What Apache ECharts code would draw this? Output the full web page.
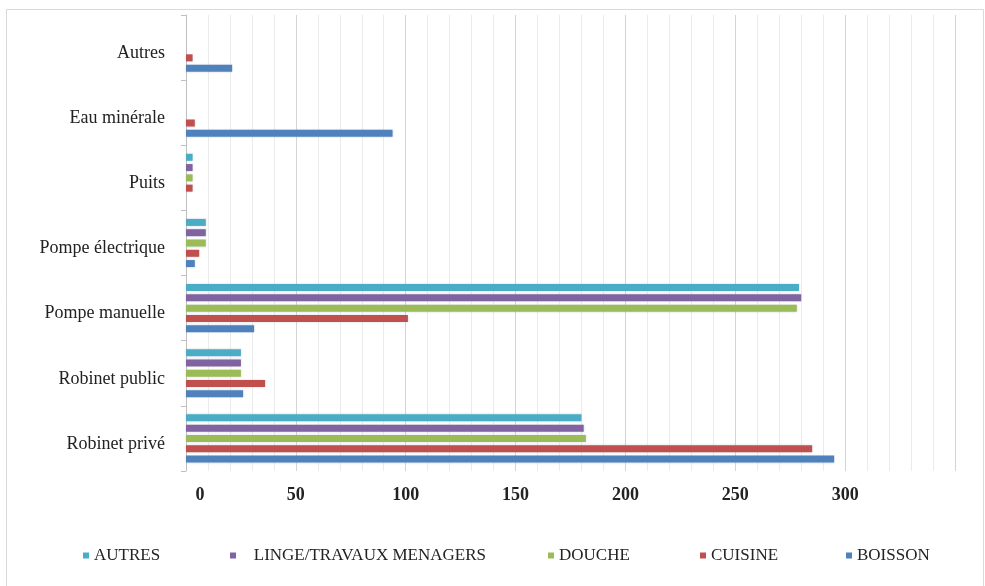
<!DOCTYPE html>
<html>
<head>
<meta charset="utf-8">
<script src="https://cdn.jsdelivr.net/npm/echarts@6/dist/echarts.min.js"></script>
<style>
  html, body { margin: 0; padding: 0; background: #ffffff; }
  #chart { width: 985px; height: 586px; }
</style>
</head>
<body>
<div id="chart"></div>
<script>
// Water sources (bottom to top on the category axis)
const sources = ['Robinet privé', 'Robinet public', 'Pompe manuelle', 'Pompe électrique', 'Puits', 'Eau minérale', 'Autres'];

// Number of households per use, for each source
const boisson = [295, 26, 31, 4, 0, 94, 21];
const cuisine = [285, 36, 101, 6, 3, 4, 3];
const douche  = [182, 25, 278, 9, 3, 0, 0];
const linge   = [181, 25, 280, 9, 3, 0, 0];
const autres  = [180, 25, 279, 9, 3, 0, 0];

// Series listed top-down within each group (first series is drawn uppermost)
const seriesNames = ['AUTRES', 'LINGE/TRAVAUX MENAGERS', 'DOUCHE', 'CUISINE', 'BOISSON'];
const seriesValues = [autres, linge, douche, cuisine, boisson];
const seriesColors = ['#4BACC6', '#8064A2', '#9BBB59', '#C0504D', '#4F81BD'];

const xTicks = [0, 50, 100, 150, 200, 250, 300];

const serifFont = '"Liberation Serif", "DejaVu Serif", serif';

const chart = echarts.init(document.getElementById('chart'), null, { renderer: 'canvas' });

const series = seriesNames.map((name, i) => ({
  name: name,
  type: 'bar',
  data: seriesValues[i],
  barWidth: 7,
  barGap: '47%',
  itemStyle: {
    color: seriesColors[i],
    shadowColor: 'rgba(160,170,190,0.45)',
    shadowBlur: 2
  }
}));

// One legend block per entry so the entries can be spaced freely
const legendSpots = [
  { name: 'AUTRES', left: 78, fmt: '{name}' },
  { name: 'LINGE/TRAVAUX MENAGERS', left: 225, fmt: '   {name}' },
  { name: 'DOUCHE', left: 543, fmt: '{name}' },
  { name: 'CUISINE', left: 695, fmt: '{name}' },
  { name: 'BOISSON', left: 841, fmt: '{name}' }
];

const legends = legendSpots.map(l => ({
  data: [l.name],
  left: l.left,
  top: 542,
  icon: 'rect',
  itemWidth: 6,
  itemHeight: 6,
  itemGap: 0,
  selectedMode: false,
  formatter: l.fmt,
  textStyle: { fontFamily: serifFont, fontSize: 17, color: '#222222' }
}));

chart.setOption({
  animation: false,
  backgroundColor: '#ffffff',
  graphic: [{
    type: 'rect',
    left: 4, top: 7,
    shape: { width: 977, height: 600 },
    style: { fill: 'none', stroke: '#d9d9d9', lineWidth: 1 },
    silent: true
  }],
  grid: { left: 186, right: 30, top: 15, bottom: 115, containLabel: false },
  legend: legends,
  xAxis: {
    type: 'value',
    min: 0,
    max: 350,
    interval: 50,
    axisLine: { show: false },
    axisTick: { show: false },
    minorTick: { show: false, splitNumber: 5 },
    splitLine: { show: true, lineStyle: { color: '#d4d4d4', width: 1 } },
    minorSplitLine: { show: true, lineStyle: { color: '#ebebeb', width: 1 } },
    axisLabel: {
      margin: 15,
      formatter: function (v) {
        if (xTicks.indexOf(v) < 0) return '';
        return v === 0 ? '{z|0}' : '{n|' + v + '}';
      },
      rich: {
        z: { fontFamily: serifFont, fontSize: 18, fontWeight: 'bold', color: '#222222', padding: [0, 0, 0, 28] },
        n: { fontFamily: serifFont, fontSize: 18, fontWeight: 'bold', color: '#222222' }
      }
    }
  },
  yAxis: {
    type: 'category',
    data: sources,
    axisLine: { show: true, lineStyle: { color: '#bfbfbf', width: 1 } },
    axisTick: { show: true, length: 5, lineStyle: { color: '#bfbfbf' } },
    axisLabel: {
      margin: 21,
      formatter: function (v) { return '{c|' + v + '}'; },
      rich: {
        c: { fontFamily: serifFont, fontSize: 18, color: '#222222', padding: [11, 0, 0, 0] }
      }
    },
    splitLine: { show: false }
  },
  series: series
});
</script>
</body>
</html>
